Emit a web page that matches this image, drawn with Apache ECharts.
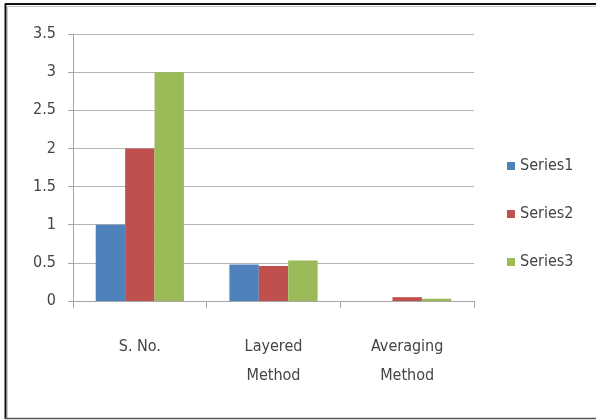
<!DOCTYPE html>
<html>
<head>
<meta charset="utf-8">
<script src="https://cdn.jsdelivr.net/npm/echarts@6/dist/echarts.min.js"></script>
<style>
  html, body { margin: 0; padding: 0; background: #fff; }
  #chart { width: 596px; height: 420px; }
</style>
</head>
<body>
<div id="chart"></div>
<script>
// Categories along the x axis (two-line labels)
const categories = ['S. No.', 'Layered\nMethod', 'Averaging\nMethod'];

// Series values per category
const series1 = [1, 0.48, 0];
const series2 = [2, 0.46, 0.05];
const series3 = [3, 0.53, 0.03];

const seriesNames = ['Series1', 'Series2', 'Series3'];
const seriesColors = ['#4F81BD', '#C0504D', '#9BBB59'];

// Value axis range and tick step
const yMin = 0;
const yMax = 3.5;
const yStep = 0.5;

const fontFamily = "'DejaVu Sans Condensed', 'Liberation Sans Narrow', 'Liberation Sans', sans-serif";
const textColor = '#444444';

const chart = echarts.init(document.getElementById('chart'));

const values = [series1, series2, series3];

// Frame edges: dark outer rule on left/top, soft rule along the bottom
const frameLine = (x1, y1, x2, y2, color, w) => ({
  type: 'line', silent: true,
  shape: { x1, y1, x2, y2 },
  style: { stroke: color, lineWidth: w }
});

chart.setOption({
  animation: false,
  backgroundColor: '#ffffff',
  textStyle: { fontFamily: fontFamily },
  graphic: [
    frameLine(5.5, 3.5, 5.5, 419, '#111', 2),
    frameLine(5, 4, 596, 4, '#111', 2),
    frameLine(7.5, 6.5, 7.5, 418, '#c8c8c8', 1),
    frameLine(8, 6.5, 596, 6.5, '#c8c8c8', 1),
    frameLine(5, 418.5, 596, 418.5, '#555', 1.5)
  ],
  grid: { left: 73, right: 122, top: 34, bottom: 119 },
  legend: {
    orient: 'vertical',
    left: 502,
    top: 153,
    itemWidth: 8,
    itemHeight: 8,
    itemGap: 32,
    icon: 'rect',
    textStyle: { color: textColor, fontSize: 16, fontFamily: fontFamily },
    data: seriesNames
  },
  xAxis: {
    type: 'category',
    data: categories,
    axisLine: { lineStyle: { color: '#a6a6a6', width: 1 } },
    axisTick: { show: true, length: 7, lineStyle: { color: '#a6a6a6' } },
    axisLabel: { color: textColor, fontSize: 16, lineHeight: 29, margin: 31, fontFamily: fontFamily, interval: 0 }
  },
  yAxis: {
    type: 'value',
    min: yMin,
    max: yMax,
    interval: yStep,
    axisLine: { show: true, lineStyle: { color: '#a6a6a6', width: 1 } },
    axisTick: { show: true, length: 5, lineStyle: { color: '#a6a6a6' } },
    splitLine: { lineStyle: { color: '#b4b4b4', width: 1 } },
    axisLabel: { color: textColor, fontSize: 16, margin: 17, fontFamily: fontFamily }
  },
  series: seriesNames.map((name, i) => ({
    name: name,
    type: 'bar',
    data: values[i],
    barGap: '0%',
    barCategoryGap: '34%',
    itemStyle: { color: seriesColors[i] }
  }))
});
</script>
</body>
</html>
